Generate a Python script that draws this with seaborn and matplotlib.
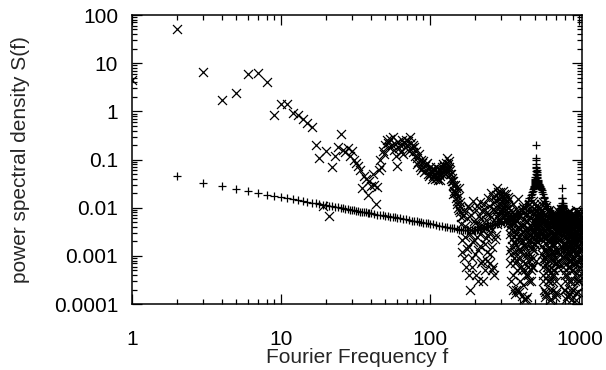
import numpy as np
import pandas as pd
import matplotlib
matplotlib.use("Agg")
import matplotlib.pyplot as plt
import seaborn as sns
from matplotlib.ticker import FixedLocator, FixedFormatter, NullFormatter

# ---- periodogram (x markers), main read-off ----
per_f = [1, 2, 3, 4, 5, 6, 7, 8, 9, 10, 11, 12, 13, 14, 15, 16, 17, 18, 19, 20,
         21, 22, 23, 24, 25, 26, 27, 28, 29, 30, 31, 32, 33, 34, 35, 36, 37, 38, 39, 40,
         41, 42, 43, 44, 45, 46, 47, 48, 49, 50, 51, 52, 53, 54, 55, 56, 57, 58, 59, 60,
         61, 62, 63, 64, 65, 66, 67, 68, 69, 70, 71, 72, 73, 74, 75, 76, 77, 78, 79, 80,
         81, 82, 83, 84, 85, 86, 87, 88, 89, 90, 91, 92, 93, 94, 95, 96, 97, 98, 99, 100,
         101, 102, 103, 104, 105, 106, 107, 108, 109, 110, 111, 112, 113, 114, 115, 116, 117, 118, 119, 120,
         121, 122, 123, 124, 125, 126, 127, 128, 129, 130, 131, 132, 133, 134, 135, 136, 137, 138, 139, 140,
         141, 142, 143, 144, 145, 146, 147, 148, 149, 150, 151, 152, 153, 154, 155, 156, 157, 158, 159, 160,
         161, 164, 167, 170, 173, 176, 179, 182, 185, 188, 191, 194, 197, 200, 203, 206, 209, 212, 215, 218,
         221, 224, 227, 230, 233, 236, 239, 242, 245, 248, 251, 254, 257, 260, 263, 266, 269, 272, 275, 278,
         281, 284, 287, 290, 293, 296, 299, 302, 305, 308, 311, 314, 317, 320, 323, 326, 329, 332, 335, 338,
         341, 345, 349, 353, 357, 361, 365, 369, 373, 377, 381, 385, 389, 393, 397, 401, 405, 409, 413, 417,
         421, 425, 429, 433, 437, 441, 445, 449, 453, 457, 461, 465, 469, 473, 477, 481, 485, 489, 493, 497,
         501, 505, 509, 513, 517, 521, 525, 529, 533, 537, 541, 545, 549, 553, 557,
         561, 565, 569, 573, 577, 581, 585, 589, 593, 597, 601, 605, 609, 613, 617, 621, 625, 629, 633, 637,
         641, 645, 649, 653, 657, 661, 665, 669, 673, 677, 681, 685, 689, 693, 697, 701, 705, 709, 713, 717,
         721, 725, 729, 733, 737, 741, 745, 749, 753, 757, 761, 765, 769,
         773, 777, 781, 785, 789, 793, 797, 801, 805, 809, 813, 817, 821, 825, 829, 833, 837, 841, 845, 849,
         853, 857, 861, 865, 869, 873, 877, 881, 885, 889, 893, 897, 901, 905, 909, 913, 917, 921, 925, 929,
         933, 937, 941, 945, 949, 953, 957, 961, 965, 969, 973, 977, 981, 985, 989, 993, 997, 1001, 1005, 1009,
         1013, 1017, 1021, 1024]
per_s = [4.4, 50, 6.6, 1.75, 2.4, 5.9, 6.4, 4.1, 0.85, 1.45, 1.4, 0.92, 0.83, 0.7, 0.56, 0.47, 0.2, 0.11, 0.011, 0.15,
         0.0068, 0.07, 0.12, 0.18, 0.34, 0.16, 0.14, 0.17, 0.12, 0.15, 0.10, 0.085, 0.075, 0.06, 0.026, 0.045, 0.04, 0.018, 0.035, 0.028,
         0.05, 0.03, 0.012, 0.027, 0.06, 0.1, 0.07, 0.15, 0.13, 0.2, 0.25, 0.22, 0.18, 0.27, 0.2, 0.29, 0.16, 0.21, 0.12, 0.075,
         0.23, 0.17, 0.2, 0.14, 0.25, 0.13, 0.22, 0.18, 0.26, 0.2, 0.24, 0.15, 0.3, 0.22, 0.17, 0.2, 0.14, 0.18, 0.12, 0.15,
         0.11, 0.08, 0.09, 0.13, 0.07, 0.1, 0.06, 0.085, 0.07, 0.095, 0.055, 0.075, 0.06, 0.08, 0.085, 0.05, 0.065, 0.045, 0.07, 0.05,
         0.06, 0.04, 0.055, 0.045, 0.065, 0.05, 0.04, 0.06, 0.048, 0.07, 0.042, 0.055, 0.038, 0.05, 0.065, 0.045, 0.037, 0.06, 0.05, 0.07,
         0.055, 0.08, 0.06, 0.075, 0.05, 0.065, 0.085, 0.06, 0.07, 0.11, 0.08, 0.065, 0.095, 0.07, 0.05, 0.06, 0.04, 0.05, 0.035, 0.042,
         0.03, 0.036, 0.019, 0.028, 0.022, 0.03, 0.02, 0.025, 0.016, 0.014, 0.02, 0.012, 0.017, 0.01, 0.026, 0.009, 0.013, 0.008, 0.011, 0.0063,
         0.0045, 0.0012, 0.0087, 0.0025, 0.0006, 0.006, 0.0016, 0.0098, 0.0002, 0.0035, 0.0009, 0.014, 0.0021, 0.0048, 0.0004, 0.011, 0.0013, 0.0068, 0.0029, 0.0007,
         0.0085, 0.0003, 0.0042, 0.012, 0.0018, 0.0055, 0.0008, 0.016, 0.0026, 0.0075, 0.0011, 0.02, 0.0038, 0.0005, 0.0095, 0.0004, 0.013, 0.0022, 0.018, 0.0065,
         0.026, 0.0095, 0.015, 0.0052, 0.021, 0.008, 0.012, 0.017, 0.0068, 0.022, 0.016, 0.0085, 0.013, 0.0058, 0.019, 0.0074, 0.011, 0.0049, 0.015, 0.0062,
         0.0028, 0.009, 0.0011, 0.0045, 0.0004, 0.012, 0.0019, 0.0007, 0.0058, 0.0002, 0.0031, 0.0009, 0.015, 0.0014, 0.0003, 0.0068, 0.0022, 0.00015, 0.0041, 0.0008,
         0.0105, 0.0017, 0.0005, 0.0035, 0.00013, 0.0026, 0.0075, 0.0006, 0.0019, 0.0003, 0.012, 0.0042, 0.0011, 0.0085, 0.0024, 0.0006, 0.014, 0.0033, 0.0018, 0.0095,
         0.0052, 0.0028, 0.0065, 0.011, 0.0038, 0.0085, 0.0024, 0.0058, 0.0095, 0.0031, 0.0072, 0.0045, 0.012, 0.0028, 0.0064,
         0.0085, 0.0016, 0.013, 0.0004, 0.0052, 0.0009, 0.0034, 0.00018, 0.011, 0.0025, 0.0007, 0.0068, 0.0013, 0.0003, 0.0046, 0.0021, 0.009, 0.0005, 0.0031, 0.00012,
         0.0058, 0.0011, 0.0024, 0.0004, 0.0075, 0.0016, 0.0002, 0.0042, 0.0008, 0.0029, 0.00014, 0.0055, 0.0012, 0.0035, 0.0003, 0.0062, 0.0019, 0.0007, 0.0048, 0.0026,
         0.0085, 0.0014, 0.0038, 0.0055, 0.0032, 0.0078, 0.0041, 0.0095, 0.0036, 0.0068, 0.0045, 0.0088, 0.0052,
         0.0036, 0.0009, 0.0062, 0.0002, 0.0025, 0.0045, 0.0011, 0.0072, 0.0004, 0.0018, 0.0032, 0.00013, 0.0056, 0.0014, 0.0027, 0.0006, 0.0082, 0.0021, 0.0003, 0.0043,
         0.0012, 0.0065, 0.0008, 0.0034, 0.00016, 0.0051, 0.0019, 0.0029, 0.0005, 0.0074, 0.0015, 0.0038, 0.0002, 0.0058, 0.0024, 0.0009, 0.0046, 0.0013, 0.0068, 0.0004,
         0.0031, 0.0017, 0.0088, 0.0007, 0.0039, 0.00012, 0.0053, 0.0022, 0.0011, 0.0064, 0.0028, 0.0003, 0.0047, 0.0016, 0.0076, 0.0006, 0.0035, 0.0021, 0.0055, 0.0009,
         0.0042, 0.0025, 0.0014, 0.0061]

# ---- periodogram, in-between frequencies of the dense high-frequency part ----
per2_f = (list(range(163, 299, 3)) + list(range(301, 341, 3)) + list(range(343, 516, 4))
          + list(range(519, 560, 4)) + list(range(563, 732, 4)) + list(range(735, 772, 4))
          + list(range(775, 1024, 4)))
per2_s = [0.0021, 0.0068, 0.0009, 0.0042, 0.0014, 0.011, 0.0004, 0.0028, 0.0072, 0.0006,
          0.0019, 0.0052, 0.0011, 0.0088, 0.0025, 0.0003, 0.0046, 0.013, 0.0016, 0.0058,
          0.0008, 0.0034, 0.0095, 0.0005, 0.0023, 0.0078, 0.0012, 0.0041, 0.011, 0.0007,
          0.0031, 0.0064, 0.0015, 0.017, 0.0006, 0.0048, 0.0089, 0.0027, 0.014, 0.0045,
          0.021, 0.0072, 0.012, 0.0058, 0.018, 0.0093,
          0.009, 0.014, 0.0062, 0.019, 0.0105, 0.0071, 0.016, 0.0088, 0.013, 0.0055, 0.0098, 0.017, 0.0069, 0.0042,
          0.0007, 0.0035, 0.0016, 0.0082, 0.0002, 0.0026, 0.0048, 0.0012, 0.0094, 0.0005,
          0.0021, 0.0038, 0.00018, 0.0065, 0.0013, 0.0029, 0.0006, 0.0088, 0.0019, 0.00025,
          0.0044, 0.0011, 0.0071, 0.0004, 0.0023, 0.00014, 0.0052, 0.0016, 0.0035, 0.0008,
          0.0098, 0.0027, 0.0005, 0.0062, 0.0014, 0.0039, 0.0009, 0.0075, 0.0022, 0.012,
          0.0033, 0.0018, 0.0085, 0.0043,
          0.0052, 0.0029, 0.0075, 0.0041, 0.0062, 0.0025, 0.0098, 0.0034, 0.0057, 0.0022, 0.0046,
          0.0031, 0.0006, 0.0058, 0.0013, 0.0002, 0.0072, 0.0022, 0.0009, 0.0045, 0.00016,
          0.0028, 0.0011, 0.0085, 0.0005, 0.0036, 0.0015, 0.0003, 0.0062, 0.0019, 0.0008,
          0.0041, 0.00013, 0.0027, 0.0012, 0.0053, 0.0005, 0.0024, 0.0067, 0.0017, 0.0004,
          0.0039, 0.0009, 0.0072, 0.0021, 0.00018, 0.0046, 0.0013, 0.0031, 0.0006, 0.0058,
          0.0024, 0.0011, 0.0049,
          0.0047, 0.0061, 0.0035, 0.0072, 0.0044, 0.0083, 0.0039, 0.0066, 0.0051, 0.0074,
          0.0018, 0.0042, 0.0007, 0.0058, 0.0013, 0.0003, 0.0031, 0.0016, 0.0069, 0.0005,
          0.0024, 0.0047, 0.0009, 0.00015, 0.0037, 0.0012, 0.0055, 0.0026, 0.0006, 0.0079,
          0.0019, 0.0033, 0.0002, 0.0061, 0.0011, 0.0028, 0.0044, 0.0008, 0.0017, 0.00013,
          0.0052, 0.0023, 0.0036, 0.0005, 0.0071, 0.0014, 0.0029, 0.0009, 0.0048, 0.0019,
          0.0003, 0.0062, 0.0025, 0.0012, 0.0041, 0.0007, 0.0083, 0.0016, 0.0033, 0.00018,
          0.0054, 0.0021, 0.0011, 0.0038, 0.0026, 0.0004, 0.0066, 0.0013, 0.0031, 0.0048,
          0.0008, 0.0037, 0.0019]

# ---- periodogram, remaining even frequencies 342..1022 ----
per3_f = list(range(342, 1023, 4))
per3_s = [0.0013, 0.0048, 0.0003, 0.0022, 0.0067, 0.0009, 0.0031, 0.00016, 0.0054, 0.0017,
          0.0008, 0.0039, 0.0002, 0.0026, 0.0071, 0.0012, 0.0044, 0.0005, 0.0019, 0.0033,
          0.00013, 0.0058, 0.0015, 0.0007, 0.0029, 0.0091, 0.0011, 0.0038, 0.0004, 0.0021,
          0.0064, 0.0009, 0.0027, 0.0003, 0.0049, 0.0016, 0.0078, 0.0006, 0.0035, 0.0013,
          0.0052, 0.0024, 0.0008, 0.0041, 0.0019,
          0.0036, 0.0067, 0.0026, 0.0082, 0.0044, 0.0031, 0.0058, 0.0023, 0.0072, 0.0038,
          0.0011, 0.0047, 0.0003, 0.0025, 0.0069, 0.0008, 0.0034, 0.00014, 0.0018, 0.0056,
          0.0006, 0.0029, 0.0012, 0.0081, 0.0004, 0.0037, 0.0015, 0.0002, 0.0049, 0.0022,
          0.0009, 0.0063, 0.0017, 0.0003, 0.0032, 0.0011, 0.0055, 0.0026, 0.0005, 0.0043,
          0.0014, 0.0076, 0.0007, 0.0024, 0.00016, 0.0039, 0.0019, 0.0058, 0.0008, 0.0031,
          0.0012, 0.0046, 0.0021,
          0.0058, 0.0036, 0.0079, 0.0042, 0.0065, 0.0033, 0.0091, 0.0048, 0.0057, 0.0039,
          0.0027, 0.0006, 0.0049, 0.0013, 0.0034, 0.0002, 0.0071, 0.0018, 0.0009, 0.0041,
          0.0015, 0.0058, 0.0004, 0.0029, 0.0011, 0.0066, 0.0022, 0.00014, 0.0037, 0.0008,
          0.0052, 0.0017, 0.0031, 0.0006, 0.0084, 0.0013, 0.0026, 0.0003, 0.0045, 0.0019,
          0.0009, 0.0063, 0.0024, 0.0035, 0.0002, 0.0057, 0.0014, 0.0028, 0.0007, 0.0049,
          0.0018, 0.0072, 0.0011, 0.0033, 0.00017, 0.0044, 0.0023, 0.0008, 0.0061, 0.0015,
          0.0038, 0.0005, 0.0027, 0.0069, 0.0012, 0.0046, 0.0003, 0.0034, 0.0021, 0.0057,
          0.0009, 0.0043, 0.0016]

# ---- smooth spectrum (+ markers) ----
spec_f = [2, 3, 4, 5, 6, 7, 8, 9, 10, 11, 12, 13, 14, 15, 16, 17, 18, 19, 20,
          21, 22, 23, 24, 25, 26, 27, 28, 29, 30, 31, 32, 33, 34, 35, 36, 37, 38, 39, 40,
          42, 44, 46, 48, 50, 52, 54, 56, 58, 60, 63, 66, 69, 72, 75, 78, 81, 84, 87, 90, 93, 96,
          100, 105, 110, 115, 120, 125, 130, 135, 140, 145, 150, 155, 160, 165, 170, 175, 180, 185, 190, 195,
          200, 205, 210, 215, 220, 225, 230, 235, 240, 245, 250, 260, 270, 280, 290, 300, 310, 320, 330, 340,
          350, 360, 370, 380, 390, 400, 410, 420, 430, 440, 450, 460,
          470, 474, 478, 482, 486, 490, 492, 494, 496, 498,
          500, 501, 502, 503, 504, 505, 506, 507, 508, 509,
          510, 511, 512, 513, 514, 515, 516, 517, 518, 519,
          520, 522, 524, 526, 528, 530, 533, 536, 539, 542,
          546, 550, 555, 560, 565, 570, 575, 580, 590, 600,
          610, 620, 630, 640, 650, 660, 670, 680, 690, 700,
          710, 720, 728, 734, 740, 745, 750, 754, 757, 760,
          762, 764, 765, 766, 767, 768, 769, 770, 771, 772,
          774, 776, 779, 782, 786, 791, 797, 805, 815, 830,
          850, 870, 895, 920, 945, 970, 995, 1024]
spec_s = [0.0445, 0.033, 0.0283, 0.0245, 0.0218, 0.0200, 0.0187, 0.0175, 0.0165, 0.0156, 0.0149, 0.0143, 0.0137, 0.0132, 0.0127, 0.0123, 0.0119, 0.0116, 0.0112,
          0.0109, 0.0106, 0.0104, 0.0101, 0.0099, 0.0097, 0.0095, 0.0093, 0.0091, 0.0089, 0.0088, 0.0086, 0.0085, 0.0083, 0.0082, 0.0081, 0.0080, 0.0078, 0.0077, 0.0076,
          0.0074, 0.0072, 0.0071, 0.0069, 0.0068, 0.0066, 0.0065, 0.0064, 0.0063, 0.0062, 0.0060, 0.0058, 0.0057, 0.0055, 0.0054, 0.0053, 0.0052, 0.0051, 0.0050, 0.0049, 0.0048, 0.0047,
          0.0046, 0.0045, 0.0043, 0.0042, 0.0041, 0.0040, 0.0039, 0.0038, 0.0037, 0.0037, 0.0036, 0.0035, 0.0035, 0.0034, 0.0034, 0.0034, 0.0034, 0.0034, 0.0034, 0.0034,
          0.0035, 0.0035, 0.0036, 0.0036, 0.0037, 0.0038, 0.0039, 0.0040, 0.0041, 0.0042, 0.0043, 0.0044, 0.0045, 0.0046, 0.0047, 0.0048, 0.0050, 0.0052, 0.0054, 0.0057,
          0.0060, 0.0063, 0.0067, 0.0072, 0.0078, 0.0085, 0.0092, 0.0100, 0.011, 0.0122, 0.014, 0.0155,
          0.017, 0.018, 0.0195, 0.021, 0.0225, 0.024, 0.025, 0.026, 0.027, 0.028,
          0.030, 0.031, 0.032, 0.0335, 0.035, 0.037, 0.040, 0.044, 0.05, 0.058,
          0.07, 0.1, 0.2, 0.11, 0.08, 0.068, 0.06, 0.054, 0.05, 0.047,
          0.044, 0.041, 0.038, 0.036, 0.034, 0.033, 0.031, 0.030, 0.029, 0.028,
          0.027, 0.026, 0.0245, 0.023, 0.021, 0.019, 0.017, 0.0155, 0.0135, 0.012,
          0.0108, 0.0098, 0.009, 0.0083, 0.0077, 0.0072, 0.0068, 0.0066, 0.0065, 0.0065,
          0.0066, 0.0068, 0.0071, 0.0075, 0.0079, 0.0084, 0.0089, 0.0094, 0.0099, 0.0104,
          0.0107, 0.011, 0.0115, 0.0128, 0.0155, 0.026, 0.0155, 0.0128, 0.0115, 0.011,
          0.0104, 0.0098, 0.0092, 0.0086, 0.008, 0.0074, 0.0068, 0.0063, 0.0058, 0.0055,
          0.0052, 0.005, 0.0048, 0.0047, 0.0046, 0.0045, 0.0045, 0.0044]

per_df = pd.DataFrame({"f": per_f + per2_f + per3_f, "S": per_s + per2_s + per3_s})
spec_df = pd.DataFrame({"f": spec_f, "S": spec_s})

sns.set_style("ticks")
plt.rcParams["font.family"] = ["Liberation Sans", "DejaVu Sans"]

fig = plt.figure(figsize=(6.06, 3.70), dpi=100)
ax = fig.add_axes([132 / 606, 1 - 304 / 370, 450 / 606, 289 / 370])

sns.scatterplot(data=per_df, x="f", y="S", marker="x", s=42, color="black",
                linewidth=0.9, ax=ax, zorder=3)
sns.scatterplot(data=spec_df, x="f", y="S", marker="+", s=36, color="black",
                linewidth=0.9, ax=ax, zorder=3)

ax.set_xscale("log")
ax.set_yscale("log")
ax.set_xlim(1, 1040)
ax.set_ylim(1e-4, 100)

ax.xaxis.set_major_locator(FixedLocator([1, 10, 100, 1000]))
ax.xaxis.set_major_formatter(FixedFormatter(["1", "10", "100", "1000"]))
yt = [1e-4, 1e-3, 1e-2, 1e-1, 1, 10, 100]
ax.yaxis.set_major_locator(FixedLocator(yt))
ax.yaxis.set_major_formatter(FixedFormatter(["0.0001", "0.001", "0.01", "0.1", "1", "10", "100"]))
ax.xaxis.set_minor_formatter(NullFormatter())
ax.yaxis.set_minor_formatter(NullFormatter())

ax.tick_params(which="both", direction="in", top=True, right=True, colors="black",
               labelsize=15)
ax.tick_params(axis="x", which="major", pad=19)
ax.tick_params(axis="y", which="major", pad=10)
ax.tick_params(which="major", length=7, width=0.9)
ax.tick_params(which="minor", length=3.5, width=0.9)
for sp in ax.spines.values():
    sp.set_linewidth(1.1)
    sp.set_color("black")

ax.set_xlabel("Fourier Frequency f", fontsize=15)
ax.set_ylabel("power spectral density S(f)", fontsize=15)
ax.xaxis.set_label_coords(0.5, (304 - 348) / 289)
ax.xaxis.label.set_va("top")
ax.yaxis.set_label_coords((30 - 132) / 450, 0.5)
if ax.get_legend() is not None:
    ax.get_legend().remove()

fig.savefig("out.png", dpi=100)
